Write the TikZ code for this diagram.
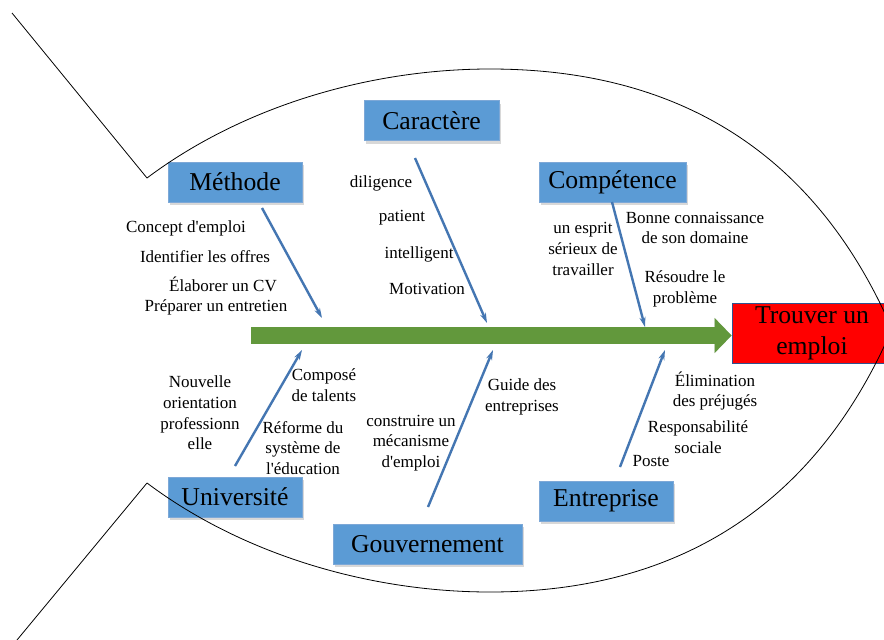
\documentclass[tikz,border=0pt]{standalone}
\usepackage{fontspec}
\setmainfont{Liberation Serif}
\usetikzlibrary{arrows.meta,shadows}
\definecolor{boxblue}{RGB}{91,155,213}
\definecolor{boxedge}{RGB}{125,168,215}
\definecolor{bonecol}{RGB}{68,118,178}
\definecolor{spinegreen}{RGB}{98,152,60}
\definecolor{redfill}{RGB}{255,0,0}
\definecolor{rededge}{RGB}{47,82,143}
\begin{document}
\begin{tikzpicture}[x=1pt,y=-1pt,
  catbox/.style={fill=boxblue, draw=boxedge, line width=0.8pt, minimum height=40pt, inner sep=0pt,
    font=\fontsize{25.7}{30.8}\selectfont,
    drop shadow={shadow xshift=2pt, shadow yshift=-3pt, opacity=0.3, fill=gray}},
  lbl/.style={font=\fontsize{17}{20.6}\selectfont, align=center, inner sep=0pt},
  bone/.style={draw=bonecol, line width=2.4pt, -{Stealth[length=10pt,width=6pt]}},
  outline/.style={draw=black, line width=0.8pt}]
\useasboundingbox (0,0) rectangle (884,640);
\clip (0,0) rectangle (884,640);
\fill[white] (0,0) rectangle (884,640);

% goal box
\node[fill=redfill, draw=rededge, line width=0.8pt, minimum width=160pt, minimum height=60pt,
  inner sep=0pt, align=center, font=\fontsize{25.7}{30.8}\selectfont] (goal) at (812,333) {Trouver un\\emploi};

% spine
\coordinate (spineL) at (251,335.5);
\draw[gray!40, line width=17pt, -{Triangle[length=17pt,width=34pt]}, shift={(2pt,-3pt)}] (spineL) -- (goal.west |- spineL);
\draw[spinegreen, line width=17pt, -{Triangle[length=17pt,width=34pt]}] (spineL) -- (goal.west |- spineL);

% category boxes
\node[catbox, minimum width=134pt] (methode) at (235,182) {Méthode};
\node[catbox, minimum width=135pt] (caractere) at (431.5,120.5) {Caractère};
\node[catbox, minimum width=147pt] (competence) at (612.5,182) {Compétence};
\node[catbox, minimum width=134pt] (universite) at (235,497) {Université};
\node[catbox, minimum width=189pt] (gouvernement) at (427.5,544) {Gouvernement};
\node[catbox, minimum width=134pt] (entreprise) at (606,501) {Entreprise};

% bones
\coordinate (mA) at (262,208);   \coordinate (mB) at (322,318);
\coordinate (cA) at (415,158);   \coordinate (cB) at (487,323);
\coordinate (kA) at (612,202);   \coordinate (kB) at (645,327);
\coordinate (uA) at (235,466);   \coordinate (uB) at (302,350);
\coordinate (gA) at (428,507);   \coordinate (gB) at (493,350);
\coordinate (eA) at (620,467);   \coordinate (eB) at (665,350);
\draw[bone] (mA) -- (mB);
\draw[bone] (cA) -- (cB);
\draw[bone] (kA) -- (kB);
\draw[bone] (uA) -- (uB);
\draw[bone] (gA) -- (gB);
\draw[bone] (eA) -- (eB);

% labels: Méthode
\node[lbl] (m1) at (186,228) {Concept d\textquotesingle emploi};
\node[lbl] (m2) at (205,257) {Identifier les offres};
\node[lbl] (m3) at (223,284) {Élaborer un CV};
\node[lbl] (m4) at (216,307) {Préparer un entretien};
% Caractère
\node[lbl] (c1) at (381,183) {diligence};
\node[lbl] (c2) at (402,218) {patient};
\node[lbl] (c3) at (419,254) {intelligent};
\node[lbl] (c4) at (427,289) {Motivation};
% Compétence
\node[lbl] (k1) at (583,249) {un esprit\\sérieux de\\travailler};
\node[lbl] (k2) at (695,228) {Bonne connaissance\\de son domaine};
\node[lbl] (k3) at (685,289) {Résoudre le\\problème};
% Université
\node[lbl] (u1) at (200,413) {Nouvelle\\orientation\\professionn\\elle};
\node[lbl] (u2) at (324,385) {Composé\\de talents};
\node[lbl] (u3) at (303,448) {Réforme du\\système de\\l\textquotesingle éducation};
% Gouvernement
\node[lbl] (g1) at (411,443) {construire un\\mécanisme\\d\textquotesingle emploi};
\node[lbl] (g2) at (522,397) {Guide des\\entreprises};
% Entreprise
\node[lbl] (e1) at (715,391) {Élimination\\des préjugés};
\node[lbl] (e2) at (698,437) {Responsabilité\\sociale};
\node[lbl] (e3) at (651,461) {Poste};

% fish outline
\coordinate (tailTop) at (12,13);
\coordinate (headTop) at (147,178);
\coordinate (bodyTop) at (490,69);
\coordinate (nose) at (892,329);
\coordinate (bodyBot) at (490,592);
\coordinate (headBot) at (147,483);
\coordinate (tailBot) at (17,640);
\draw[outline] (tailTop) -- (headTop);
\draw[outline] (headTop) .. controls (243,106) and (370,69) .. (bodyTop)
  .. controls (680,69) and (816,154) .. (nose)
  .. controls (816,504) and (680,592) .. (bodyBot)
  .. controls (370,592) and (243,555) .. (headBot);
\draw[outline] (headBot) -- (tailBot);
\end{tikzpicture}
\end{document}
